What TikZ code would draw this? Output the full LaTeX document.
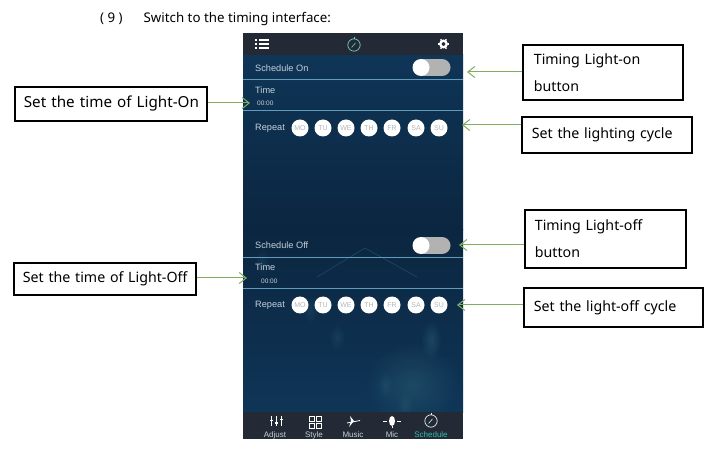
\documentclass[tikz,border=0pt]{standalone}
\usepackage{fontspec}
\usetikzlibrary{arrows.meta, fadings}
\setmainfont{Noto Sans}
\newfontfamily\appfont{Liberation Sans}
\definecolor{barcol}{HTML}{232A35}
\definecolor{deepcol}{HTML}{0B2640}
\definecolor{midcol}{HTML}{0F3557}
\definecolor{linecol}{HTML}{5F9DBB}
\definecolor{arrowcol}{HTML}{7FAE62}
\definecolor{appcol}{HTML}{C4D0DA}
\definecolor{tabcol}{HTML}{2BBFB0}
\definecolor{glowcol}{HTML}{3E7F8C}
\tikzset{
    notebox/.style={draw=black, line width=1.8pt, fill=white, inner sep=0pt, anchor=north west, align=left, font=\fontsize{14.2}{27}\selectfont},
    notearrow/.style={draw=arrowcol, line width=1pt, -{Straight Barb[length=7pt,width=11pt]}},
    applabel/.style={inner sep=0pt, anchor=west, text=appcol, font=\appfont\fontsize{9.2}{10}\selectfont},
    clocklabel/.style={applabel, font=\appfont\fontsize{6.5}{7}\selectfont},
    tablabel/.style={inner sep=0pt, text=appcol, font=\appfont\fontsize{8}{9}\selectfont},
    daydot/.style={circle, fill=white, minimum size=17pt, inner sep=0pt, text=appcol!70!gray, font=\appfont\fontsize{7}{7}\selectfont},
    sliderknob/.style={circle, fill=white, minimum size=17pt, inner sep=0pt},
    blob/.style={fill=glowcol, path fading=fuzzy blob}
}
\tikzfading[name=fuzzy blob, inner color=transparent!70, outer color=transparent!100]
\newcommand{\stopwatch}[3]{%
    \draw[#3, line width=0.7pt] (#1,#2) circle (6.2pt);
    \draw[#3, line width=0.9pt] (#1,#2-8) -- (#1,#2-6.4);
    \draw[#3, line width=0.6pt] (#1-2.5,#2+2.5) -- (#1+1.5,#2-2);
}
\begin{document}
\begin{tikzpicture}[x=1pt, y=-1pt]
    \useasboundingbox (0,0) rectangle (715,454);
    \fill[white] (0,0) rectangle (715,454);
    \node[anchor=west, inner sep=0pt, font=\fontsize{13.3}{15}\selectfont] (heading) at (100,19) {( 9 )\hspace{21pt}Switch to the timing interface:};

    % phone screen
    \shade[top color=midcol, bottom color=deepcol] (243,55) rectangle (463,230);
    \shade[top color=deepcol, bottom color=midcol] (243,230) rectangle (463,412);
    \begin{scope}
        \clip (243,55) rectangle (463,412);
        \fill[blob] (412,385) ellipse (48pt and 42pt);
        \fill[blob] (431,340) ellipse (10pt and 20pt);
        \foreach \bx/\by in {310,195, 337,197, 385,173, 405,168, 447,193, 262,145}
            \fill[blob, opacity=0.6] (\bx,\by) ellipse (8pt and 14pt);
        \draw[glowcol!20!midcol, line width=0.8pt, line cap=round] (317,277) -- (365,248) -- (417,277);
    \end{scope}
    \fill[barcol] (243,33) rectangle (463,55);
    \fill[barcol] (243,412) rectangle (463,439);

    % top bar icons
    \foreach \iy in {40,44,48} {
        \fill[white] (255,\iy-0.8) rectangle (257,\iy+0.8);
        \fill[white] (258.5,\iy-0.8) rectangle (269,\iy+0.8);
    }
    \stopwatch{354}{45}{tabcol!70!white}
    \fill[white, even odd rule] (443.5,44) circle (4.5pt) (443.5,44) circle (2pt);
    \foreach \ga in {0,60,...,300}
        \draw[white, line width=1.4pt] (443.5,44) ++(\ga:4pt) -- ++(\ga:1.5pt);

    % divider lines
    \foreach \ly in {79,110,257,288}
        \draw[linecol, line width=0.6pt] (243,\ly) -- (463,\ly);

    % upper part
    \node[applabel] (schedon) at (255,68) {Schedule On};
    \fill[gray!60] (421,59) rectangle (442,76);
    \fill[gray!60] (442,67.5) circle (8.5pt);
    \node[sliderknob] (toggleon) at (421,67.5) {};
    \node[applabel] (timeon) at (255,90) {Time};
    \node[clocklabel] (clockon) at (257,103) {00:00};
    \node[applabel] (repeaton) at (255,128) {Repeat};

    % lower part
    \node[applabel] (schedoff) at (255,245) {Schedule Off};
    \fill[gray!60] (421,237) rectangle (442,254);
    \fill[gray!60] (442,245.5) circle (8.5pt);
    \node[sliderknob] (toggleoff) at (421,245.5) {};
    \node[applabel] (timeoff) at (255,267) {Time};
    \node[clocklabel] (clockoff) at (261,281) {00:00};
    \node[applabel] (repeatoff) at (255,305) {Repeat};

    % day buttons
    \foreach \dx/\dn in {300/MO,323/TU,346/WE,369/TH,392/FR,416/SA,439/SU} {
        \node[daydot] (on\dn) at (\dx,128) {\dn};
        \node[daydot] (off\dn) at (\dx,305) {\dn};
    }

    % bottom tab bar
    \foreach \tx in {271,276,281}
        \draw[white, line width=0.8pt] (\tx,416) -- (\tx,426);
    \fill[white] (269.5,419.5) rectangle (272.5,421);
    \fill[white] (274.5,422) rectangle (277.5,423.5);
    \fill[white] (279.5,418.5) rectangle (282.5,420);
    \foreach \gx in {309,316} \foreach \gy in {416,423}
        \draw[white, line width=0.7pt] (\gx,\gy) rectangle ++(5,5);
    \draw[white, line width=0.8pt] (347,423) -- (360,420.5);
    \fill[white] (350,416) -- (354,421) -- (349,427) -- (351,421) -- cycle;
    \draw[white, line width=0.7pt] (383,421) -- (387,421) (397,421) -- (401,421);
    \fill[white] (392,421) ellipse (3pt and 5pt);
    \draw[white, line width=0.7pt] (392,426) -- (392,428);
    \stopwatch{431}{421}{white!85!tabcol}
    \node[tablabel] (tabadjust) at (275,435) {Adjust};
    \node[tablabel] (tabstyle) at (314,435) {Style};
    \node[tablabel] (tabmusic) at (353,435) {Music};
    \node[tablabel] (tabmic) at (392,435) {Mic};
    \node[tablabel, text=tabcol] (tabsched) at (431,435) {Schedule};

    % note boxes
    \node[notebox, minimum width=192pt, minimum height=34pt, text width=174pt, font=\fontsize{15.2}{27}\selectfont] (noteset) at (14,86) {\mbox{Set the time of Light-On}};
    \node[notebox, minimum width=182pt, minimum height=32pt, text width=164pt] (notesetoff) at (13,262) {\mbox{Set the time of Light-Off}};
    \node[notebox, minimum width=160pt, minimum height=55pt, text width=138pt] (noteon) at (522,44) {Timing Light-on\\button};
    \node[notebox, minimum width=170pt, minimum height=36pt, text width=150pt] (notecycle) at (521,116) {Set the lighting cycle};
    \node[notebox, minimum width=161pt, minimum height=58pt, text width=141pt] (noteoff) at (524,209) {Timing Light-off\\button};
    \node[notebox, minimum width=179pt, minimum height=39pt, text width=159pt] (notecycleoff) at (523,287) {Set the light-off cycle};

    % free ends of the arrows
    \coordinate (endset) at (250,103);
    \coordinate (endsetoff) at (247,278);
    \coordinate (endon) at (467,72);
    \coordinate (endcycle) at (462,125);
    \coordinate (endoff) at (459,245);
    \coordinate (endcycleoff) at (457,305);

    \draw[notearrow] (noteset.east |- endset) -- (endset);
    \draw[notearrow] (notesetoff.east |- endsetoff) -- (endsetoff);
    \draw[notearrow] (noteon.west |- endon) -- (endon);
    \draw[notearrow] (notecycle.west |- endcycle) -- (endcycle);
    \draw[notearrow] (noteoff.west |- endoff) -- (endoff);
    \draw[notearrow] (notecycleoff.west |- endcycleoff) -- (endcycleoff);
\end{tikzpicture}
\end{document}
